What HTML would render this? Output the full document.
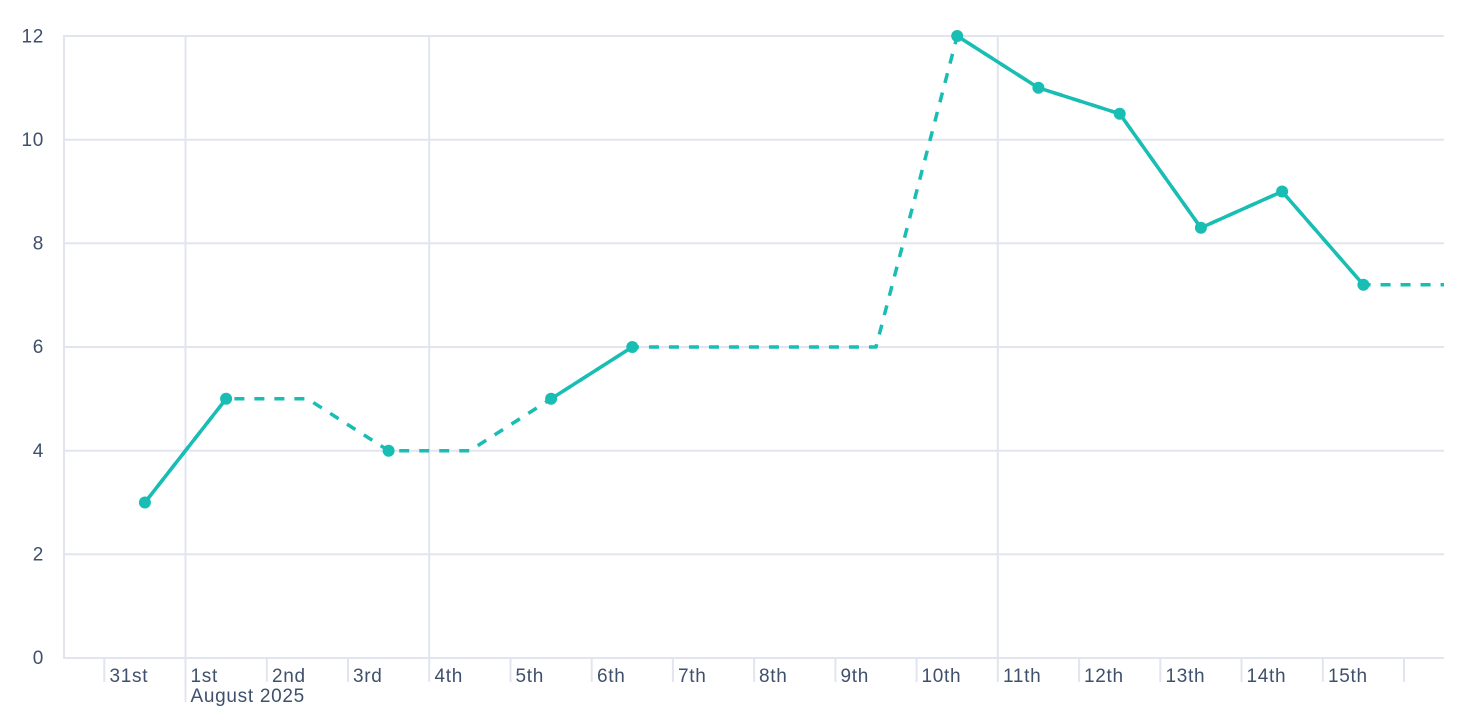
<!DOCTYPE html>
<html>
<head>
<meta charset="utf-8">
<style>
html,body{margin:0;padding:0;background:#ffffff;}
svg{display:block;}
text{font-family:"Liberation Sans",sans-serif;fill:#3f506c;font-size:19px;letter-spacing:0.7px;}
</style>
</head>
<body>
<svg width="1464" height="726" viewBox="0 0 1464 726" xmlns="http://www.w3.org/2000/svg">
  <!-- horizontal gridlines -->
  <g stroke="#e2e5f0" stroke-width="2" fill="none">
    <line x1="64" y1="36" x2="1444" y2="36"/>
    <line x1="64" y1="139.7" x2="1444" y2="139.7"/>
    <line x1="64" y1="243.3" x2="1444" y2="243.3"/>
    <line x1="64" y1="347" x2="1444" y2="347"/>
    <line x1="64" y1="450.7" x2="1444" y2="450.7"/>
    <line x1="64" y1="554.3" x2="1444" y2="554.3"/>
    <line x1="64" y1="658" x2="1444" y2="658"/>
    <!-- y axis line -->
    <line x1="64" y1="35" x2="64" y2="659"/>
    <!-- vertical gridlines -->
    <line x1="185.5" y1="35" x2="185.5" y2="702"/>
    <line x1="429.2" y1="35" x2="429.2" y2="682"/>
    <line x1="997.8" y1="35" x2="997.8" y2="682"/>
    <!-- ticks -->
    <line x1="104.3" y1="658" x2="104.3" y2="682"/>
    <line x1="266.8" y1="658" x2="266.8" y2="682"/>
    <line x1="348.0" y1="658" x2="348.0" y2="682"/>
    <line x1="510.5" y1="658" x2="510.5" y2="682"/>
    <line x1="591.7" y1="658" x2="591.7" y2="682"/>
    <line x1="672.9" y1="658" x2="672.9" y2="682"/>
    <line x1="754.1" y1="658" x2="754.1" y2="682"/>
    <line x1="835.4" y1="658" x2="835.4" y2="682"/>
    <line x1="916.6" y1="658" x2="916.6" y2="682"/>
    <line x1="1079.1" y1="658" x2="1079.1" y2="682"/>
    <line x1="1160.3" y1="658" x2="1160.3" y2="682"/>
    <line x1="1241.5" y1="658" x2="1241.5" y2="682"/>
    <line x1="1322.8" y1="658" x2="1322.8" y2="682"/>
    <line x1="1404.0" y1="658" x2="1404.0" y2="682"/>
  </g>

  <!-- y labels -->
  <g text-anchor="end">
    <text x="44" y="42.5">12</text>
    <text x="44" y="146">10</text>
    <text x="44" y="249.5">8</text>
    <text x="44" y="353">6</text>
    <text x="44" y="457">4</text>
    <text x="44" y="560.5">2</text>
    <text x="44" y="664">0</text>
  </g>

  <!-- x labels -->
  <g>
    <text x="109.5" y="682">31st</text>
    <text x="190.5" y="682">1st</text>
    <text x="272" y="682">2nd</text>
    <text x="353" y="682">3rd</text>
    <text x="434.5" y="682">4th</text>
    <text x="515.5" y="682">5th</text>
    <text x="597" y="682">6th</text>
    <text x="678" y="682">7th</text>
    <text x="759" y="682">8th</text>
    <text x="840.5" y="682">9th</text>
    <text x="921.5" y="682">10th</text>
    <text x="1003" y="682">11th</text>
    <text x="1084" y="682">12th</text>
    <text x="1165.5" y="682">13th</text>
    <text x="1246.5" y="682">14th</text>
    <text x="1328" y="682">15th</text>
    <text x="190.5" y="702">August 2025</text>
  </g>

  <!-- dashed continuous line -->
  <polyline fill="none" stroke="#18bdb3" stroke-width="3.5" stroke-dasharray="10 10" stroke-linejoin="round"
    points="144.9,502.5 226.1,398.8 307.4,398.8 388.6,450.7 469.8,450.7 551.1,398.8 632.3,347 713.5,347 794.7,347 876.0,347 957.2,36 1038.4,87.8 1119.7,113.75 1200.9,227.8 1282.1,191.5 1363.4,284.8 1444,284.8"/>

  <!-- solid segments -->
  <g fill="none" stroke="#18bdb3" stroke-width="3.5" stroke-linejoin="round" stroke-linecap="round">
    <polyline points="144.9,502.5 226.1,398.8"/>
    <polyline points="551.1,398.8 632.3,347"/>
    <polyline points="957.2,36 1038.4,87.8 1119.7,113.75 1200.9,227.8 1282.1,191.5 1363.4,284.8"/>
  </g>

  <!-- markers -->
  <g fill="#18bdb3">
    <circle cx="144.9" cy="502.5" r="6"/>
    <circle cx="226.1" cy="398.8" r="6"/>
    <circle cx="388.6" cy="450.7" r="6"/>
    <circle cx="551.1" cy="398.8" r="6"/>
    <circle cx="632.3" cy="347" r="6"/>
    <circle cx="957.2" cy="36" r="6"/>
    <circle cx="1038.4" cy="87.8" r="6"/>
    <circle cx="1119.7" cy="113.75" r="6"/>
    <circle cx="1200.9" cy="227.8" r="6"/>
    <circle cx="1282.1" cy="191.5" r="6"/>
    <circle cx="1363.4" cy="284.8" r="6"/>
  </g>
</svg>
</body>
</html>
